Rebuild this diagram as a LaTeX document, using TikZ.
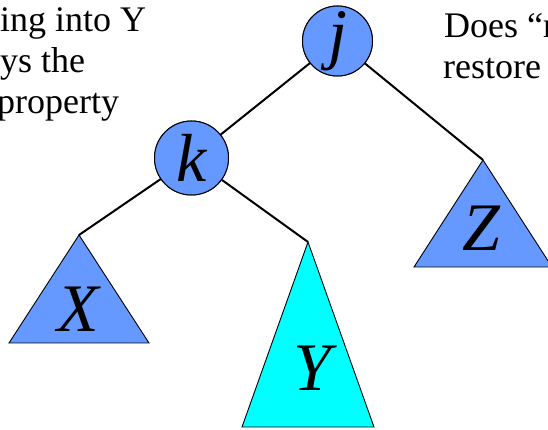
\documentclass[tikz,border=0pt]{standalone}
\usepackage{fontspec}
\setmainfont{Liberation Serif}
\definecolor{nodeblue}{RGB}{102,153,255}
\definecolor{treecyan}{RGB}{0,255,255}
\tikzset{
  keynode/.style={circle,draw=black,line width=1pt,fill=nodeblue,inner sep=0pt,font=\fontsize{68}{68}\selectfont\itshape},
  subtree/.style={draw=black,line width=0.9pt},
  link/.style={draw=black,line width=2pt},
  lbl/.style={inner sep=0pt,font=\fontsize{68}{68}\selectfont\itshape},
  say/.style={inner sep=0pt,anchor=base west,font=\fontsize{36}{41}\selectfont}
}
\begin{document}
\begin{tikzpicture}[x=1pt,y=1pt]
\useasboundingbox (0,0) rectangle (548,430);
\clip (0,0) rectangle (548,430);
% text
\node[say] (t1) at (0,398) {ing into Y};
\node[say] (t2) at (0,357) {ys the};
\node[say] (t3) at (-3,316) {property};
\node[say] (t4) at (444,392) {Does “r};
\node[say] (t5) at (443,351) {restore};
% apex coordinates
\coordinate (xa) at (79,195);
\coordinate (ya) at (308,188);
\coordinate (za) at (483,270);
% key nodes
\node[keynode,minimum size=70pt] (j) at (337.5,389) {j};
\node[keynode,minimum size=74pt] (k) at (191.5,272) {k};
% connectors
\draw[link] (j) -- (k);
\draw[link] (j) -- (za);
\draw[link] (k) -- (xa);
\draw[link] (k) -- (ya);
% subtrees
\filldraw[subtree,fill=nodeblue] (xa) -- (9,87) -- (149,87) -- cycle;
\filldraw[subtree,fill=treecyan] (ya) -- (242,3) -- (374,3) -- cycle;
\filldraw[subtree,fill=nodeblue] (za) -- (414,163) -- (552,163) -- cycle;
\node[lbl] (xl) at (78,121) {X};
\node[lbl] (yl) at (312,62) {Y};
\node[lbl] (zl) at (481,202) {Z};
% redraw key nodes on top
\node[keynode,minimum size=70pt] at (j) {j};
\node[keynode,minimum size=74pt] at (k) {k};
\end{tikzpicture}
\end{document}
